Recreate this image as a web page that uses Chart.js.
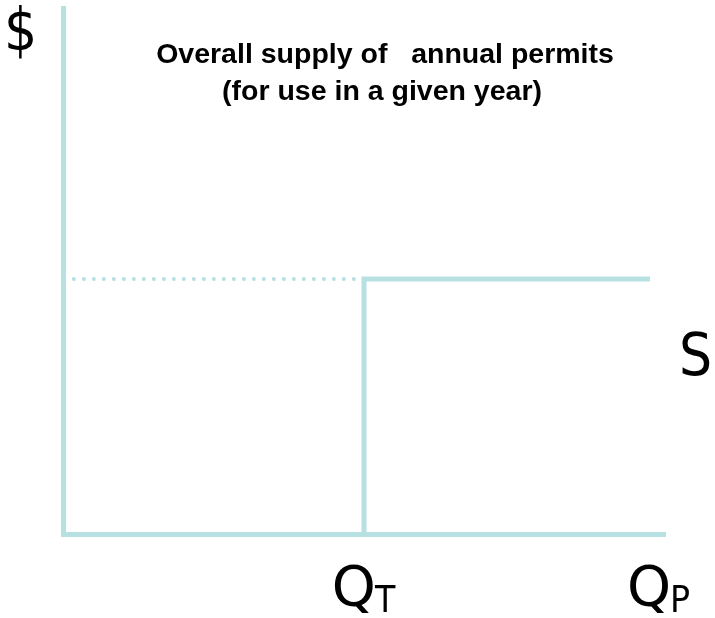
<!DOCTYPE html>
<html>
<head>
<meta charset="utf-8">
<script src="https://cdn.jsdelivr.net/npm/chart.js@4.4.1/dist/chart.umd.min.js"></script>
<style>
  html, body { margin: 0; padding: 0; background: #fff; }
  #wrap { width: 715px; height: 618px; }
</style>
</head>
<body>
<div id="wrap"><canvas id="chart" width="715" height="618"></canvas></div>
<script>
// quantity axis runs 0..100, price axis 0..100
const titleLines = ['Overall supply of   annual permits', '(for use in a given year)'];
const permitPrice = 48.5;
const quantityT = 50;
const supplyEnd = 97.5;
const dottedStart = 1.8;
const qLabels = [
  { value: 50, main: 'Q', sub: 'T' },
  { value: 99, main: 'Q', sub: 'P' },
];

const teal = '#b7e0e2';

const supplyPoints = [
  { x: quantityT, y: 0 },
  { x: quantityT, y: permitPrice },
  { x: supplyEnd, y: permitPrice },
];
const pricePoints = [
  { x: dottedStart, y: permitPrice },
  { x: quantityT, y: permitPrice },
];

const mainFont = '56px "DejaVu Sans", sans-serif';
const subFont = '37px "DejaVu Sans Condensed", "DejaVu Sans", sans-serif';

const textPlugin = {
  id: 'labels',
  afterDraw(chart) {
    const { ctx, scales: { x } } = chart;
    ctx.save();
    ctx.fillStyle = '#000';

    // title
    ctx.font = 'bold 28.5px "Liberation Sans", Arial, sans-serif';
    ctx.textAlign = 'center';
    ctx.textBaseline = 'alphabetic';
    ctx.fillText(titleLines[0], 385, 63);
    ctx.fillText(titleLines[1], 382, 100);

    // axis names
    ctx.textAlign = 'left';
    ctx.font = '58px "DejaVu Sans Condensed", "DejaVu Sans", sans-serif';
    ctx.fillText('$', 4, 50);
    ctx.fillText('S', 679, 375);

    // quantity labels with subscripts
    qLabels.forEach((l) => {
      ctx.font = mainFont;
      const wMain = ctx.measureText(l.main).width;
      ctx.font = subFont;
      const wSub = ctx.measureText(l.sub).width;
      const left = x.getPixelForValue(l.value) - (wMain + wSub) / 2;
      ctx.font = mainFont;
      ctx.fillText(l.main, left, 605);
      ctx.font = subFont;
      ctx.fillText(l.sub, left + wMain - 1, 612);
    });
    ctx.restore();
  },
};

new Chart(document.getElementById('chart'), {
  type: 'line',
  data: {
    datasets: [
      {
        data: supplyPoints,
        borderColor: teal,
        borderWidth: 5,
        pointRadius: 0,
        borderJoinStyle: 'miter',
        tension: 0,
        clip: false,
      },
      {
        data: pricePoints,
        borderColor: teal,
        borderWidth: 4,
        borderDash: [0, 10],
        borderCapStyle: 'round',
        pointRadius: 0,
        tension: 0,
        clip: false,
      },
    ],
  },
  options: {
    responsive: false,
    animation: false,
    events: [],
    layout: { padding: { left: 63, top: 8, right: 50, bottom: 84 } },
    plugins: { legend: { display: false }, tooltip: { enabled: false } },
    scales: {
      x: {
        type: 'linear',
        min: 0,
        max: 100,
        ticks: { display: false },
        grid: { display: false, drawTicks: false },
        border: { display: true, color: teal, width: 5 },
      },
      y: {
        type: 'linear',
        min: 0,
        max: 100,
        ticks: { display: false },
        grid: { display: false, drawTicks: false },
        border: { display: true, color: teal, width: 5 },
      },
    },
  },
  plugins: [textPlugin],
});
</script>
</body>
</html>
